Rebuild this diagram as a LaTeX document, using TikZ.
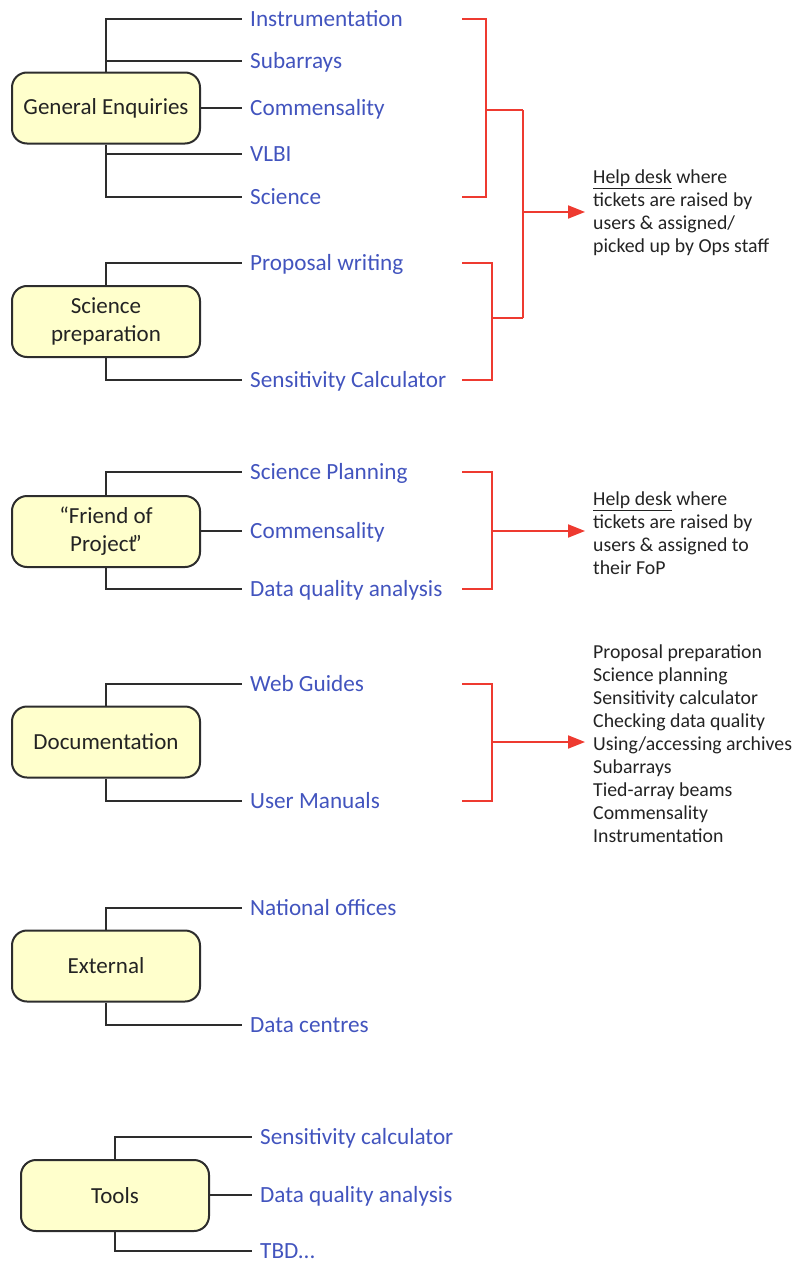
\documentclass[tikz,border=0pt]{standalone}
\usepackage{fontspec}
\setmainfont{Carlito}
\usetikzlibrary{arrows.meta}
\definecolor{leafblue}{RGB}{66,84,190}
\definecolor{bracketred}{RGB}{238,58,48}
\definecolor{linegray}{RGB}{45,45,45}
\definecolor{boxfill}{RGB}{255,255,204}
\definecolor{textdark}{RGB}{35,35,35}
\tikzset{
  topic/.style={draw=linegray, line width=2pt, fill=boxfill, rounded corners=15pt,
    minimum width=188pt, minimum height=71pt, align=center, text=textdark,
    font=\fontsize{23}{28}\selectfont, inner sep=0pt},
  leaf/.style={anchor=west, text=leafblue, font=\fontsize{23.2}{27}\selectfont,
    inner xsep=8pt, inner ysep=0pt, text height=15pt, text depth=0pt},
  branch/.style={draw=linegray, line width=2pt},
  bracket/.style={draw=bracketred, line width=2pt},
  pointer/.style={bracket, -{Triangle[length=17pt,width=13pt]}},
  note/.style={anchor=west, align=left, text=textdark, inner sep=0pt,
    font=\fontsize{19.8}{23}\selectfont}
}
\begin{document}
\begin{tikzpicture}[x=1pt,y=-1pt]
\useasboundingbox (0,0) rectangle (795,1263);

% topic boxes
\node[topic] (ge)    at (106,108)  {General Enquiries};
\node[topic] (sp)    at (106,321.5)  {Science\\preparation};
\node[topic] (fop)   at (106,531.5)  {“Friend of\\Project\kern-4pt”};
\node[topic] (doc)   at (106,742)    {Documentation};
\node[topic] (ext)   at (106,966)    {External};
\node[topic] (tools) at (115,1195.5) {Tools};

% leaves
\node[leaf] (instr) at (242,19)   {Instrumentation};
\node[leaf] (sub)   at (242,61)   {Subarrays};
\node[leaf] (comA)  at (242,108)  {Commensality};
\node[leaf] (vlbi)  at (242,154)  {VLBI};
\node[leaf] (sci)   at (242,197)  {Science};
\node[leaf] (prop)  at (242,263)  {Proposal writing};
\node[leaf] (sensA) at (242,380)  {Sensitivity Calculator};
\node[leaf] (splan) at (242,472)  {Science Planning};
\node[leaf] (comB)  at (242,531)  {Commensality};
\node[leaf] (dqaA)  at (242,589)  {Data quality analysis};
\node[leaf] (web)   at (242,684)  {Web Guides};
\node[leaf] (man)   at (242,801)  {User Manuals};
\node[leaf] (nat)   at (242,908)  {National offices};
\node[leaf] (dc)    at (242,1025) {Data centres};
\node[leaf] (sensB) at (252,1137) {Sensitivity calculator};
\node[leaf] (dqaB)  at (252,1195) {Data quality analysis};
\node[leaf] (tbd)   at (252,1251) {TBD...};

% black branches
\draw[branch] (ge.north) |- (instr.west);
\draw[branch] (ge.north |- sub.west) -- (sub.west);
\draw[branch] (comA.west -| ge.east) -- (comA.west);
\draw[branch] (ge.south) |- (sci.west);
\draw[branch] (ge.south |- vlbi.west) -- (vlbi.west);
\draw[branch] (sp.north) |- (prop.west);
\draw[branch] (sp.south) |- (sensA.west);
\draw[branch] (fop.north) |- (splan.west);
\draw[branch] (comB.west -| fop.east) -- (comB.west);
\draw[branch] (fop.south) |- (dqaA.west);
\draw[branch] (doc.north) |- (web.west);
\draw[branch] (doc.south) |- (man.west);
\draw[branch] (ext.north) |- (nat.west);
\draw[branch] (ext.south) |- (dc.west);
\draw[branch] (tools.north) |- (sensB.west);
\draw[branch] (dqaB.west -| tools.east) -- (dqaB.west);
\draw[branch] (tools.south) |- (tbd.west);

% notes
\node[note] (help1) at (593,213) {\underline{Help desk} where\\tickets are raised by\\users \& assigned/\\picked up by Ops staff};
\node[note] (help2) at (593,533) {\underline{Help desk} where\\tickets are raised by\\users \& assigned to\\their FoP};
\node[note] (topics) at (593,744) {Proposal preparation\\Science planning\\Sensitivity calculator\\Checking data quality\\Using/accessing archives\\Subarrays\\Tied-array beams\\Commensality\\Instrumentation};

% red bracket end points
\coordinate (a1) at (462,19);   \coordinate (a2) at (462,197);
\coordinate (b1) at (462,263);  \coordinate (b2) at (462,380);
\coordinate (c1) at (462,472);  \coordinate (c2) at (462,589);
\coordinate (d1) at (462,684);  \coordinate (d2) at (462,801);
\coordinate (am) at (486,110);  \coordinate (bm) at (492,318);
\coordinate (j1) at (523,110);  \coordinate (j2) at (523,318);
\coordinate (jm) at (523,212);
\coordinate (cm) at (492,531);  \coordinate (dm) at (492,742);
\coordinate (tip1) at (585,212);
\coordinate (tip2) at (585,531);
\coordinate (tip3) at (585,742);

% red brackets and arrows
\draw[bracket] (a1) -- (a1 -| am) -- (a2 -| am) -- (a2);
\draw[bracket] (am) -- (j1);
\draw[bracket] (b1) -- (b1 -| bm) -- (b2 -| bm) -- (b2);
\draw[bracket] (bm) -- (j2);
\draw[bracket] (j1) -- (j2);
\draw[pointer] (jm) -- (tip1);
\draw[bracket] (c1) -- (c1 -| cm) -- (c2 -| cm) -- (c2);
\draw[pointer] (cm) -- (tip2);
\draw[bracket] (d1) -- (d1 -| dm) -- (d2 -| dm) -- (d2);
\draw[pointer] (dm) -- (tip3);
\end{tikzpicture}
\end{document}
